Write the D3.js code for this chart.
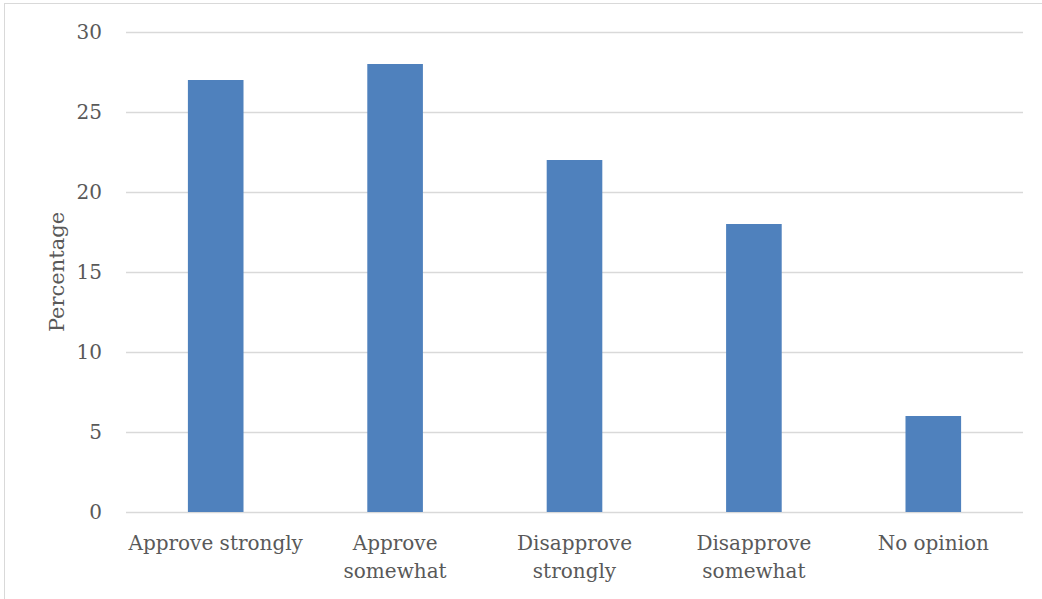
<!DOCTYPE html>
<html><head><meta charset="utf-8">
<script src="https://cdn.jsdelivr.net/npm/d3@7"></script>
<style>body{margin:0;background:#fff}svg{display:block}</style>
</head><body>
<script>
const categories = [["Approve strongly"],["Approve","somewhat"],["Disapprove","strongly"],["Disapprove","somewhat"],["No opinion"]];
const values = [27, 28, 22, 18, 6];
const yTicks = [0, 5, 10, 15, 20, 25, 30];
const yLabel = "Percentage";

const W = 1042, H = 599;
const m = {left:126, right:19, top:32, bottom:87};
const font = "'DejaVu Serif', serif";
const svg = d3.select("body").append("svg").attr("width", W).attr("height", H);
svg.append("rect").attr("x",4.5).attr("y",3.5).attr("width",W+10).attr("height",H+10)
  .attr("fill","#fff").attr("stroke","#d9d9d9").attr("stroke-width",1);

const keys = categories.map(c => c.join(" "));
const x = d3.scaleBand().domain(keys).range([m.left, W - m.right]).paddingInner(0.69).paddingOuter(0.345);
const y = d3.scaleLinear().domain([0, 30]).range([H - m.bottom, m.top]);

const yAxis = svg.append("g").attr("transform", `translate(${m.left},0)`)
  .call(d3.axisLeft(y).tickValues(yTicks).tickSize(-(W - m.right - m.left)).tickPadding(24));
yAxis.select(".domain").remove();
yAxis.selectAll("line").attr("stroke", "#d9d9d9").attr("stroke-width", 1.3);
yAxis.selectAll("text").attr("fill", "#595959").style("font-family", font).style("font-size", "20px");

svg.append("g").selectAll("rect").data(values).join("rect")
  .attr("x", (d, i) => x(keys[i])).attr("width", x.bandwidth())
  .attr("y", d => y(d)).attr("height", d => y(0) - y(d))
  .attr("fill", "#4f81bd");

const xl = svg.append("g");
categories.forEach((c, i) => {
  const t = xl.append("text").attr("text-anchor", "middle").attr("fill", "#595959")
    .style("font-family", font).style("font-size", "20px")
    .attr("x", x(keys[i]) + x.bandwidth() / 2).attr("y", 550);
  c.forEach((line, j) => t.append("tspan").attr("x", x(keys[i]) + x.bandwidth() / 2).attr("dy", j ? 28 : 0).text(line));
});

svg.append("text").attr("transform", `translate(64,${(y(0)+y(30))/2}) rotate(-90)`)
  .attr("text-anchor", "middle").attr("fill", "#595959")
  .style("font-family", font).style("font-size", "21px").text(yLabel);
</script>
</body></html>
